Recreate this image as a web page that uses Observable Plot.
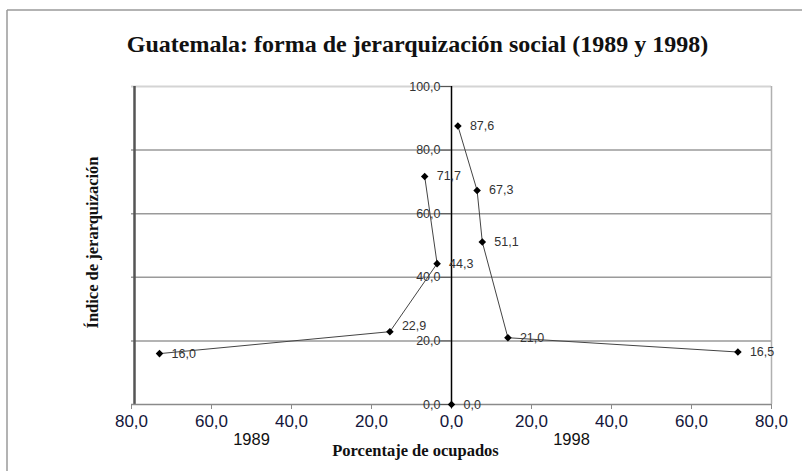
<!DOCTYPE html>
<html>
<head>
<meta charset="utf-8">
<script src="https://cdn.jsdelivr.net/npm/d3@7"></script>
<script src="https://cdn.jsdelivr.net/npm/@observablehq/plot@0.6"></script>
<style>
  html, body { margin: 0; padding: 0; background: #fff; }
  #chart { width: 802px; height: 471px; overflow: hidden; }
</style>
</head>
<body>
<div id="chart"></div>
<script>
const title = "Guatemala: forma de jerarquización social (1989 y 1998)";
const xTitle = "Porcentaje de ocupados";
const yTitle = "Índice de jerarquización";
const yearLabels = ["1989", "1998"];
const yearLabelX = [-50, 30];

// 1989 (drawn on the left side, percentages negated)
const pct1989 = [73.0, 15.4, 3.6, 6.7];
const idx1989 = [16.0, 22.9, 44.3, 71.7];
// 1998 (right side)
const pct1998 = [1.6, 6.4, 7.7, 14.1, 71.6];
const idx1998 = [87.6, 67.3, 51.1, 21.0, 16.5];
// origin point
const pctOrigin = [0];
const idxOrigin = [0];

const xTicks = [-80, -60, -40, -20, 0, 20, 40, 60, 80];
const yTicks = [0, 20, 40, 60, 80, 100];

const fmt = d => Math.abs(d).toFixed(1).replace(".", ",");

const s89 = pct1989.map((p, i) => ({x: -p, y: idx1989[i]}));
const s98 = pct1998.map((p, i) => ({x: p, y: idx1998[i]}));
const sOrigin = pctOrigin.map((p, i) => ({x: p, y: idxOrigin[i]}));
const allPts = [...s89, ...s98, ...sOrigin];
const raised = allPts.filter(d => d.y === 22.9);
const normal = allPts.filter(d => d.y !== 22.9);

const sans = "Liberation Sans, Arial, sans-serif";
const serif = "Liberation Serif, Times New Roman, serif";

const chart = Plot.plot({
  width: 802,
  height: 471,
  marginLeft: 131,
  marginRight: 31,
  marginTop: 86,
  marginBottom: 67,
  style: {background: "#fff", fontFamily: sans},
  x: {domain: [-80, 80], axis: null},
  y: {domain: [0, 100], axis: null},
  marks: [
    Plot.ruleY(yTicks.filter(d => d > 0 && d < 100), {stroke: "#9a9a9a", strokeWidth: 1.5}),
    Plot.ruleY([100], {stroke: "#d4d4d4", strokeWidth: 2}),
    Plot.ruleX([80], {stroke: "#b0b0b0", strokeWidth: 1.5}),
    Plot.ruleX([-80], {stroke: "#555", strokeWidth: 2.5, dx: 3}),
    Plot.ruleY([0], {stroke: "#8a8a8a", strokeWidth: 1.5}),
    Plot.axisX({
      ticks: xTicks, tickFormat: fmt, tickSize: 5, tickPadding: 5,
      stroke: "#8a8a8a", fill: "#14163a", fontSize: 17, label: null
    }),
    Plot.ruleX([0], {stroke: "#000", strokeWidth: 1.5}),
    Plot.ruleY(yTicks, {x1: -2.7, x2: 0, stroke: "#555", strokeWidth: 1}),
    Plot.text(yTicks, {x: 0, y: d => d, text: fmt, dx: -11, textAnchor: "end",
      fontSize: 12.5, fill: "#333", fontFamily: sans}),
    Plot.line(s89, {x: "x", y: "y", stroke: "#444", strokeWidth: 1}),
    Plot.line(s98, {x: "x", y: "y", stroke: "#444", strokeWidth: 1}),
    Plot.dot(allPts, {x: "x", y: "y", symbol: "diamond2", r: 3.4, fill: "#000", stroke: "none"}),
    Plot.text(normal, {x: "x", y: "y", text: d => fmt(d.y), dx: 12, textAnchor: "start",
      fontSize: 12.5, fill: "#333", fontFamily: sans}),
    Plot.text(raised, {x: "x", y: "y", text: d => fmt(d.y), dx: 12, dy: -6, textAnchor: "start",
      fontSize: 12.5, fill: "#333", fontFamily: sans}),
    Plot.text(yearLabels, {x: (d, i) => yearLabelX[i], frameAnchor: "bottom", dy: 40,
      text: d => d, fontSize: 16.5, fill: "#111", fontFamily: sans}),
    Plot.text([xTitle], {frameAnchor: "bottom", dx: -36, dy: 51, text: d => d, textAnchor: "middle",
      fontSize: 16.5, fontWeight: "bold", fill: "#111", fontFamily: serif}),
    Plot.text([yTitle], {frameAnchor: "left", dx: -39, dy: -3, rotate: -90, text: d => d, textAnchor: "middle",
      fontSize: 16.5, fontWeight: "bold", fill: "#111", fontFamily: serif}),
    Plot.text([title], {frameAnchor: "top", dx: -34, dy: -52, text: d => d, textAnchor: "middle",
      fontSize: 24, fontWeight: "bold", fill: "#111", fontFamily: serif})
  ]
});

const svg = d3.select(chart);
svg.append("line").attr("x1", 7).attr("x2", 802).attr("y1", 10).attr("y2", 10)
  .attr("stroke", "#9a9a9a").attr("stroke-width", 1.5);
svg.append("line").attr("x1", 7).attr("x2", 7).attr("y1", 10).attr("y2", 471)
  .attr("stroke", "#9a9a9a").attr("stroke-width", 1.5);

document.getElementById("chart").appendChild(chart);
</script>
</body>
</html>
